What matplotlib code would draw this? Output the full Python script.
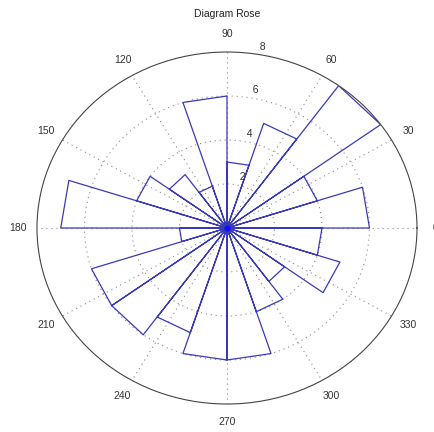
import matplotlib.pyplot as plt
import numpy as np

plt.rcParams['font.family'] = ['Liberation Sans', 'DejaVu Sans']

# rose histogram: 20 bins of 18 degrees, counts
bin_edges = np.arange(0, 361, 18)
counts = [6, 4, 8, 5, 3, 6, 2, 3, 4, 7, 2, 6, 6, 5, 6, 6, 4, 3, 5, 4]
rticks = [2, 4, 6, 8]
angle_labels = list(range(0, 360, 30))
rmax = 8

fig = plt.figure(figsize=(4.35, 4.32), dpi=100)
ax = fig.add_axes([0.085, 0.0648, 0.8736, 0.8148], projection='polar')
ax.set_aspect('auto')

# each bin drawn as a triangle: centre -> edge1 -> edge2 -> centre
th, rr = [], []
for i, c in enumerate(counts):
    a0 = np.deg2rad(bin_edges[i])
    a1 = np.deg2rad(bin_edges[i + 1])
    th += [0, a0, a1, 0, np.nan]
    rr += [0, c, c, 0, np.nan]
ax.plot(th, rr, color='#3a3ab8', linewidth=0.9)
# all the lines meet in a blob at the centre
ax.plot(th[0], rr[0], 'o', color='#1010ff', markersize=3.5)

ax.set_ylim(0, rmax)
ax.set_yticks(rticks[:-1])
ax.set_yticklabels([])
ax.set_xticks(np.deg2rad(angle_labels))
ax.set_xticklabels([])
ax.grid(True, linestyle=(0, (1, 3.5)), color='#8a8a8a', linewidth=0.8)
ax.spines['polar'].set_color('#444444')
ax.spines['polar'].set_linewidth(0.8)

# angle labels at 1.1*rmax, like matlab polar
for a in angle_labels:
    ax.text(np.deg2rad(a), rmax * 1.1, str(a), ha='center', va='center',
            fontsize=7.5, color='#333333', clip_on=False)

# radial labels along the 82 degree line
for r in rticks:
    ax.text(np.deg2rad(82), r + 0.1, '  ' + str(r), ha='left', va='bottom',
            fontsize=7.5, color='#333333', clip_on=False)

fig.text(0.522, 0.967, 'Diagram Rose', ha='center', va='center',
         fontsize=7.5, color='#222222')

plt.savefig('out.png', dpi=100)
